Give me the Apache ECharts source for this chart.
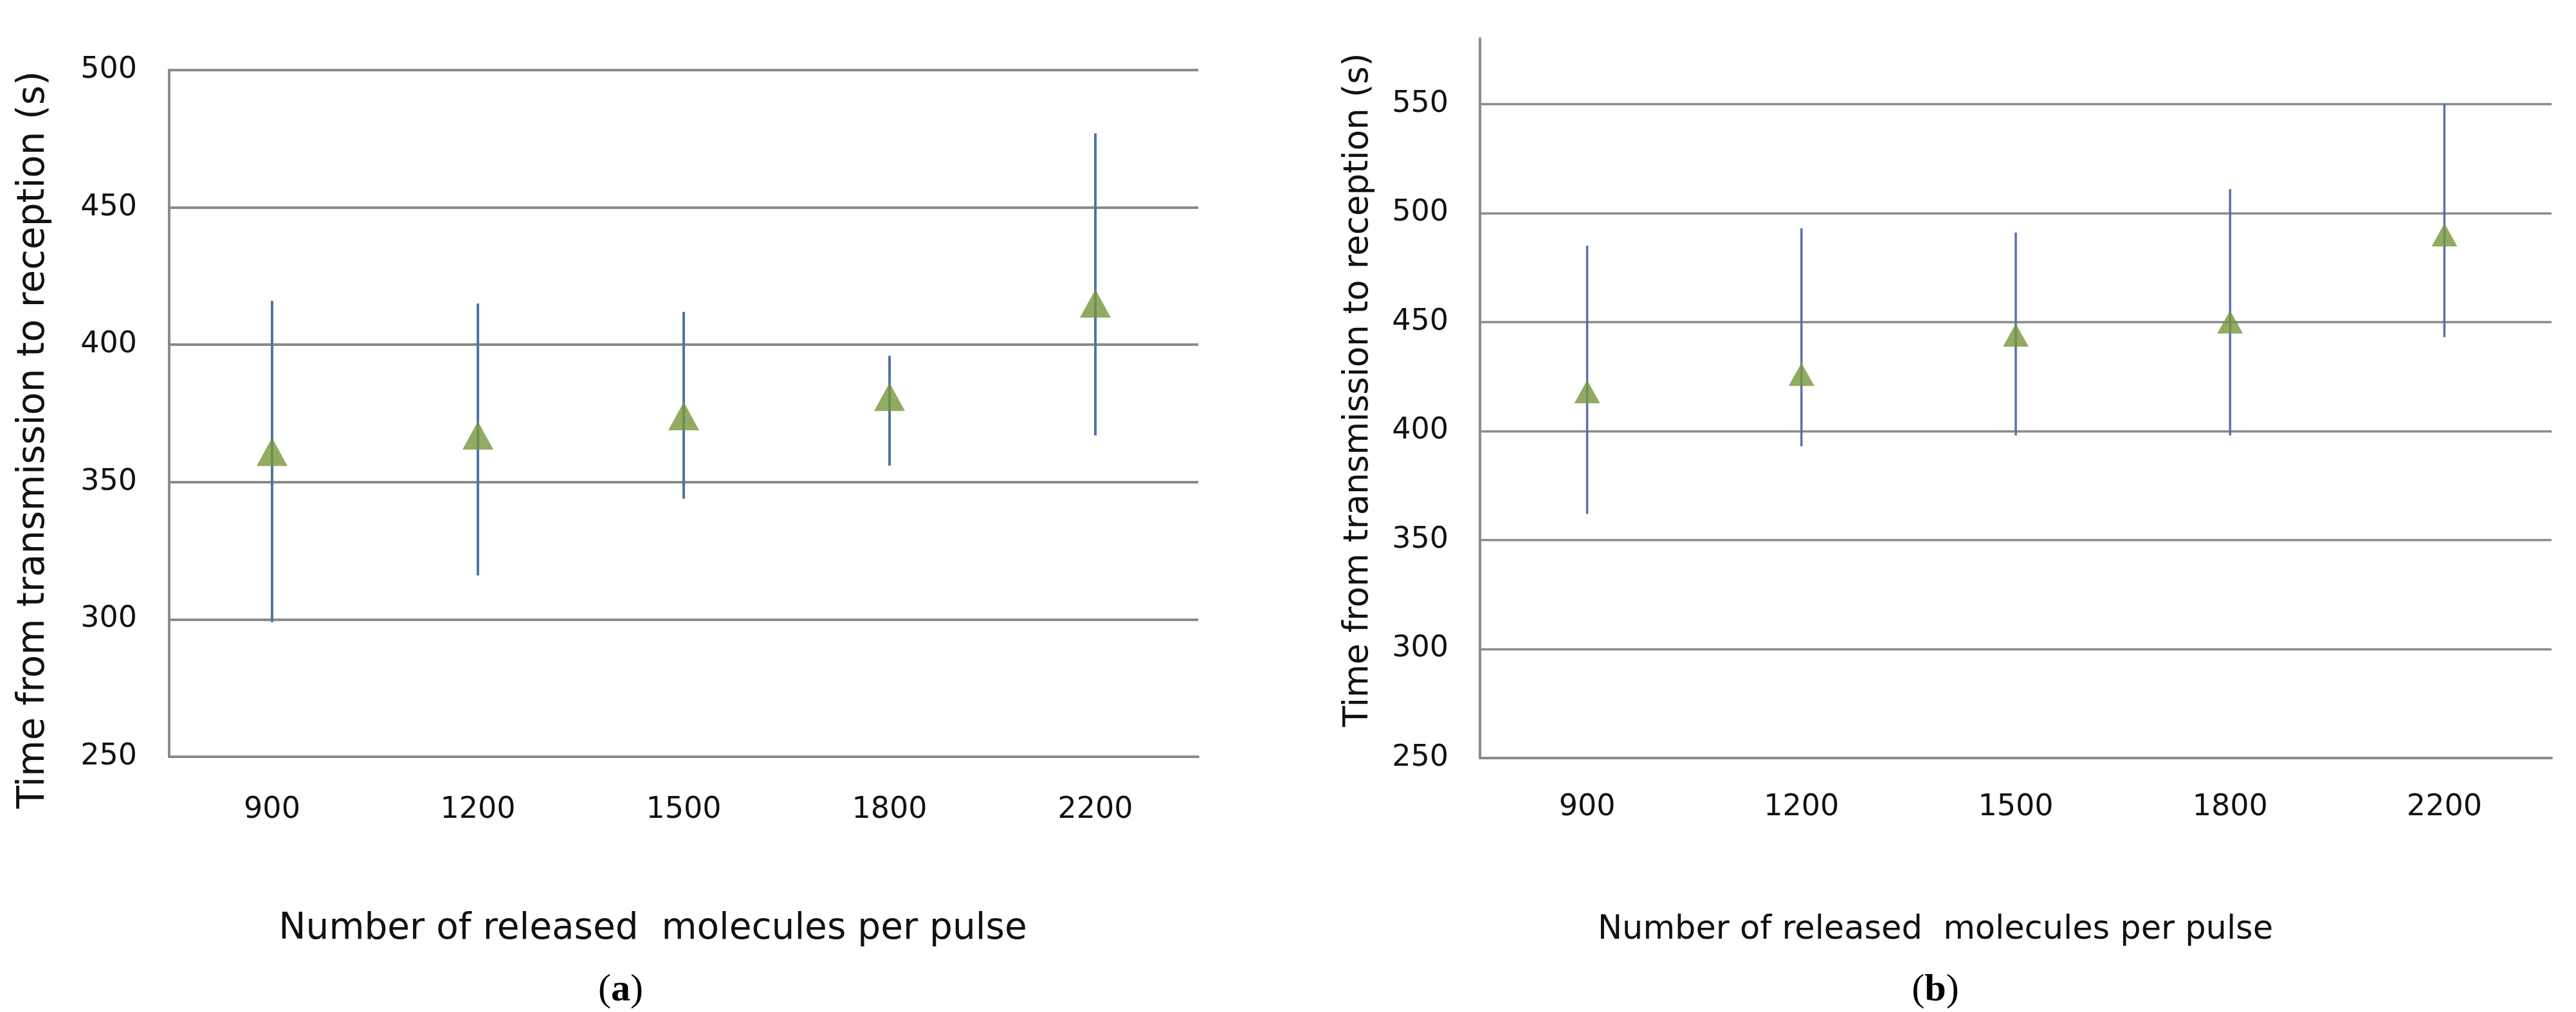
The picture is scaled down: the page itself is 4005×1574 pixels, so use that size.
<!DOCTYPE html>
<html>
<head>
<meta charset="utf-8">
<script src="https://cdn.jsdelivr.net/npm/echarts@6/dist/echarts.min.js"></script>
<style>
html,body{margin:0;padding:0;background:#fff;}
#chart{width:4005px;height:1574px;}
</style>
</head>
<body>
<div id="chart"></div>
<script>
// ---- data ----
const categories = ['900', '1200', '1500', '1800', '2200'];
// panel (a)
const meanA = [361, 367, 374, 381, 415];
const highA = [416, 415, 412, 396, 477];
const lowA  = [299, 316, 344, 356, 367];
// panel (b)
const meanB = [418, 426, 444, 450, 490];
const highB = [485, 493, 491, 511, 550];
const lowB  = [362, 393, 398, 398, 443];
const xTitle = 'Number of released  molecules per pulse';
const yTitle = 'Time from transmission to reception (s)';

const gridColor = '#8a8a8a';
const font = 'DejaVu Sans';

function errData(lo, hi) { return lo.map((v, i) => [i, v, hi[i]]); }
function errSeries(idx, lo, hi, color, w) {
  return {
    type: 'custom', xAxisIndex: idx, yAxisIndex: idx,
    data: errData(lo, hi),
    encode: { x: 0, y: [1, 2] },
    renderItem: function (params, api) {
      const x = api.value(0);
      const a = api.coord([x, api.value(1)]);
      const b = api.coord([x, api.value(2)]);
      return { type: 'line', shape: { x1: a[0], y1: a[1], x2: b[0], y2: b[1] },
               style: { stroke: color, lineWidth: w } };
    },
    z: 2
  };
}
function xAxisCfg(idx, margin, gap, pad, size) {
  return {
    type: 'category', gridIndex: idx, data: categories, boundaryGap: true,
    axisTick: { show: false },
    axisLine: { show: true, lineStyle: { color: gridColor, width: 4 } },
    axisLabel: { margin: margin, fontFamily: font, fontSize: 46, color: '#111' },
    name: xTitle, nameLocation: 'middle', nameGap: gap,
    nameTextStyle: { fontFamily: font, fontSize: size, color: '#111', padding: pad }
  };
}

const chart = echarts.init(document.getElementById('chart'));
chart.setOption({
  backgroundColor: '#fff',
  animation: false,
  grid: [
    { left: 263, right: 2142, top: 109, bottom: 397 },
    { left: 2301, right: 38, top: 60, bottom: 395 }
  ],
  xAxis: [
    xAxisCfg(0, 60, 240, [0, 96, 0, 0], 56.5),
    xAxisCfg(1, 54, 242, [0, 250, 0, 0], 51)
  ],
  yAxis: [
    {
      type: 'value', gridIndex: 0, min: 250, max: 500, interval: 50,
      axisLine: { show: true, lineStyle: { color: gridColor, width: 4 } },
      axisTick: { show: false },
      splitLine: { lineStyle: { color: gridColor, width: 4 } },
      axisLabel: { margin: 50, fontFamily: font, fontSize: 46, color: '#111' },
      name: yTitle, nameLocation: 'middle', nameGap: 181,
      nameTextStyle: { fontFamily: font, fontSize: 58, color: '#111', padding: [0, 82, 0, 0] }
    },
    {
      type: 'value', gridIndex: 1, min: 250, max: 580, interval: 50,
      axisLine: { show: true, lineStyle: { color: gridColor, width: 4 } },
      axisTick: { show: false },
      splitLine: { showMaxLine: false, lineStyle: { color: gridColor, width: 3.5 } },
      axisLabel: { showMaxLabel: false, margin: 49, fontFamily: font, fontSize: 46, color: '#111' },
      name: yTitle, nameLocation: 'middle', nameGap: 162,
      nameTextStyle: { fontFamily: font, fontSize: 53, color: '#111', padding: [0, 0, 0, 26] }
    }
  ],
  series: [
    errSeries(0, lowA, highA, '#4f74a6', 4),
    {
      type: 'scatter', xAxisIndex: 0, yAxisIndex: 0, data: meanA,
      symbol: 'triangle', symbolSize: [48, 44],
      itemStyle: { color: '#77963c' }, z: 3
    },
    errSeries(1, lowB, highB, '#5a6eb2', 3.5),
    {
      type: 'scatter', xAxisIndex: 1, yAxisIndex: 1, data: meanB,
      symbol: 'triangle', symbolSize: [40, 36],
      itemStyle: { color: '#77963c' }, z: 3
    }
  ],
  graphic: [
    { type: 'text', x: 965, y: 1540, style: {
        text: '({b|a})', x: 0, y: 0, align: 'center', verticalAlign: 'middle',
        fontFamily: 'Liberation Serif', fontSize: 60, fill: '#000',
        rich: { b: { fontFamily: 'Liberation Serif', fontSize: 60, fontWeight: 'bold' } } } },
    { type: 'text', x: 3009, y: 1540, style: {
        text: '({b|b})', x: 0, y: 0, align: 'center', verticalAlign: 'middle',
        fontFamily: 'Liberation Serif', fontSize: 60, fill: '#000',
        rich: { b: { fontFamily: 'Liberation Serif', fontSize: 60, fontWeight: 'bold' } } } }
  ]
});
</script>
</body>
</html>
